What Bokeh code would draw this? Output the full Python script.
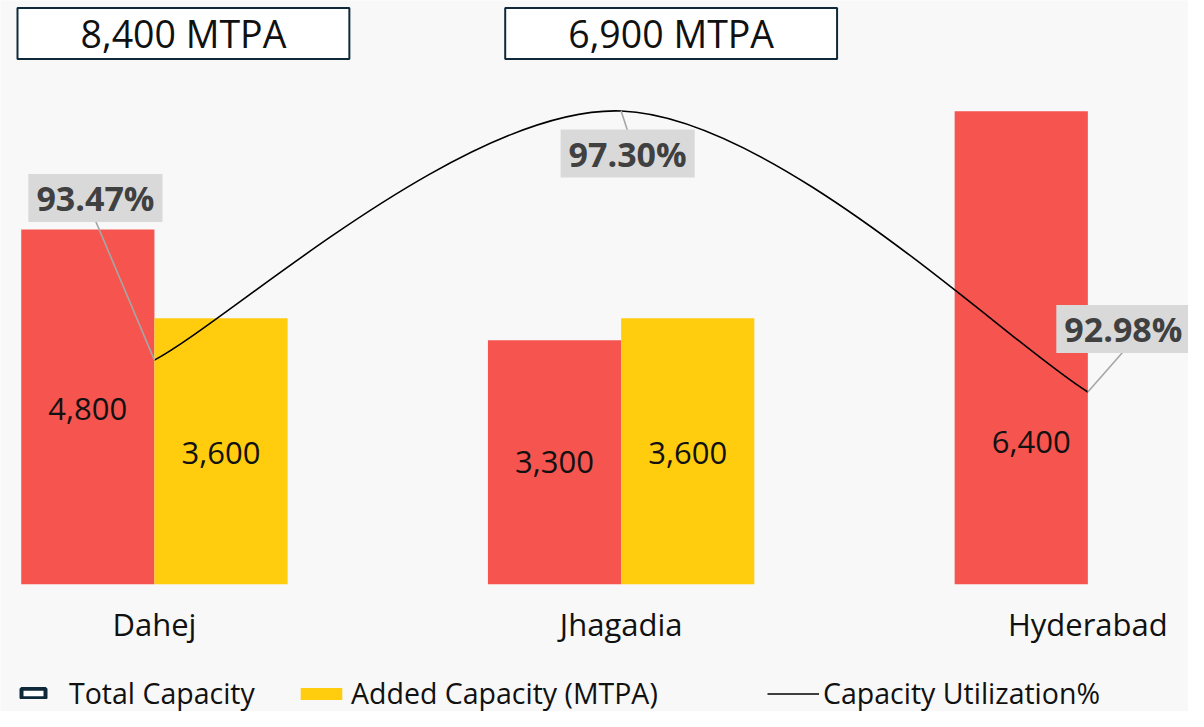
from bokeh.plotting import figure
from bokeh.models import Range1d, ColumnDataSource, Label, Legend, LegendItem
from bokeh.core.properties import value
from bokeh.embed import file_html
from bokeh.resources import INLINE

# ---------------- data ----------------
categories = ["Dahej", "Jhagadia", "Hyderabad"]
existing_capacity = [4800, 3300, 6400]
added_capacity = [3600, 3600, 0]
utilization = [93.47, 97.30, 92.98]
total_capacity = [8400, 6900]          # shown for the first two sites only

# ---------------- style ----------------
W, H = 1188, 711
BG = "#f8f8f8"
RED = "#F5544F"
YELLOW = "#FFCC0E"
NAVY = "#0E2A3A"
FONT = "Open Sans"
TXT = "#111111"

x_range = Range1d(-0.32982, 2.21566)
y_range = Range1d(-1719.6, 7896.6)
util_range = Range1d(88.067, 98.999)

p = figure(width=W, height=H, x_range=x_range, y_range=y_range,
           output_backend="svg", toolbar_location=None,
           x_axis_location=None, y_axis_location=None,
           min_border=0, background_fill_color=BG, border_fill_color=BG,
           outline_line_color=None)
p.grid.visible = False
p.extra_y_ranges = {"util": util_range}

xs = (x_range.end - x_range.start) / W     # data units per pixel (x)
us = (util_range.end - util_range.start) / H

n = len(categories)
idx = list(range(n))
BW = 0.2854

# bars
red_src = ColumnDataSource(dict(x=[i - BW / 2 for i in idx], top=existing_capacity))
yel_src = ColumnDataSource(dict(x=[i + BW / 2 for i in idx], top=added_capacity))
p.vbar(x="x", top="top", width=BW, source=red_src, fill_color=RED, line_color=None)
yel_r = p.vbar(x="x", top="top", width=BW, source=yel_src, fill_color=YELLOW, line_color=None)

# value labels inside bars
red_lab = ColumnDataSource(dict(
    x=[i - BW / 2 for i in idx], y=[v / 2 for v in existing_capacity],
    text=[f"{v:,}" for v in existing_capacity],
    dx=[0, 0, 10], dy=[2, 0, 94]))
p.text(x="x", y="y", text="text", x_offset="dx", y_offset="dy", source=red_lab,
       text_font=value(FONT), text_font_size="31px", text_color=TXT,
       text_align="center", text_baseline="middle")
yl = [(i, v) for i, v in zip(idx, added_capacity) if v > 0]
yel_lab = ColumnDataSource(dict(
    x=[i + BW / 2 for i, v in yl], y=[v / 2 for i, v in yl],
    text=[f"{v:,}" for i, v in yl], dy=[2, 2]))
p.text(x="x", y="y", text="text", y_offset="dy", source=yel_lab,
       text_font=value(FONT), text_font_size="31px", text_color=TXT,
       text_align="center", text_baseline="middle")

# category labels
p.text(x=idx, y=[0] * n, text=categories, y_offset=40,
       text_font=value(FONT), text_font_size="31px", text_color=TXT,
       text_align="center", text_baseline="middle")

# smoothed utilization line (Bezier through the data points)
x0, y0, x1, y1, cx0, cy0, cx1, cy1 = [], [], [], [], [], [], [], []
for i in range(n - 1):
    a = max(i - 1, 0)
    d = min(i + 2, n - 1)
    x0.append(idx[i]); y0.append(utilization[i])
    x1.append(idx[i + 1]); y1.append(utilization[i + 1])
    cx0.append(idx[i] + (idx[i + 1] - idx[a]) / 6)
    cy0.append(utilization[i] + (utilization[i + 1] - utilization[a]) / 6)
    cx1.append(idx[i + 1] - (idx[d] - idx[i]) / 6)
    cy1.append(utilization[i + 1] - (utilization[d] - utilization[i]) / 6)
p.bezier(x0=x0, y0=y0, x1=x1, y1=y1, cx0=cx0, cy0=cy0, cx1=cx1, cy1=cy1,
         y_range_name="util", line_color="black", line_width=1.6)

# utilization callouts
pct_dx = [-59, 6.5, 35.5]
pct_dy = [162, -42.5, 63]
half_box = 22.5
lx1 = [i + dx * xs for i, dx in zip(idx, pct_dx)]
ly1 = [u + (dy - (half_box if dy > 0 else -half_box)) * us
       for u, dy in zip(utilization, pct_dy)]
p.segment(x0=idx, y0=utilization, x1=lx1, y1=ly1, y_range_name="util",
          line_color="#A6A6A6", line_width=1.6)
for i, u, dx, dy in zip(idx, utilization, pct_dx, pct_dy):
    p.add_layout(Label(x=i, y=u, y_range_name="util", x_offset=dx, y_offset=dy,
                       text=f"{u:.2f}%", text_font=FONT, text_font_style="bold",
                       text_font_size="34px", text_color="#404040",
                       text_align="center", text_baseline="middle",
                       background_fill_color="#D9D9D9", padding=(8, 1)))

# total capacity boxes
tot_dx = [29, 50]
for i, (t, dx) in enumerate(zip(total_capacity, tot_dx)):
    p.add_layout(Label(x=i, y=y_range.end, x_offset=dx, y_offset=-33,
                       text=f"{t:,} MTPA", text_font=FONT, text_font_size="37.5px",
                       text_color=TXT, text_align="center", text_baseline="middle",
                       background_fill_color="white", border_line_color=NAVY,
                       border_line_width=2, padding=(63, 0)))

# legend proxies (hidden renderers built from the same data)
tot_r = p.vbar(x=idx[:len(total_capacity)], top=total_capacity, width=BW,
               fill_color="white", line_color=NAVY, line_width=4, visible=False)
util_r = p.line(x=idx, y=utilization, y_range_name="util",
                line_color="black", line_width=1.6, visible=False)

def add_leg(label, r, x, gw, gh, standoff):
    lg = Legend(items=[LegendItem(label=label, renderers=[r])], location=(x, -1),
                orientation="horizontal", padding=0, margin=0, spacing=0,
                glyph_width=gw, glyph_height=gh, label_standoff=standoff,
                label_text_font=FONT, label_text_font_size="28.5px",
                label_text_color=TXT, border_line_color=None,
                background_fill_alpha=0, inactive_fill_alpha=0)
    p.add_layout(lg)

add_leg("Total Capacity", tot_r, 18, 30, 12, 21)
add_leg("Added Capacity (MTPA)", yel_r, 295, 52, 15, 4)
add_leg("Capacity Utilization%", util_r, 767, 52, 15, 4)

open("out.html", "w").write(file_html(p, INLINE))
